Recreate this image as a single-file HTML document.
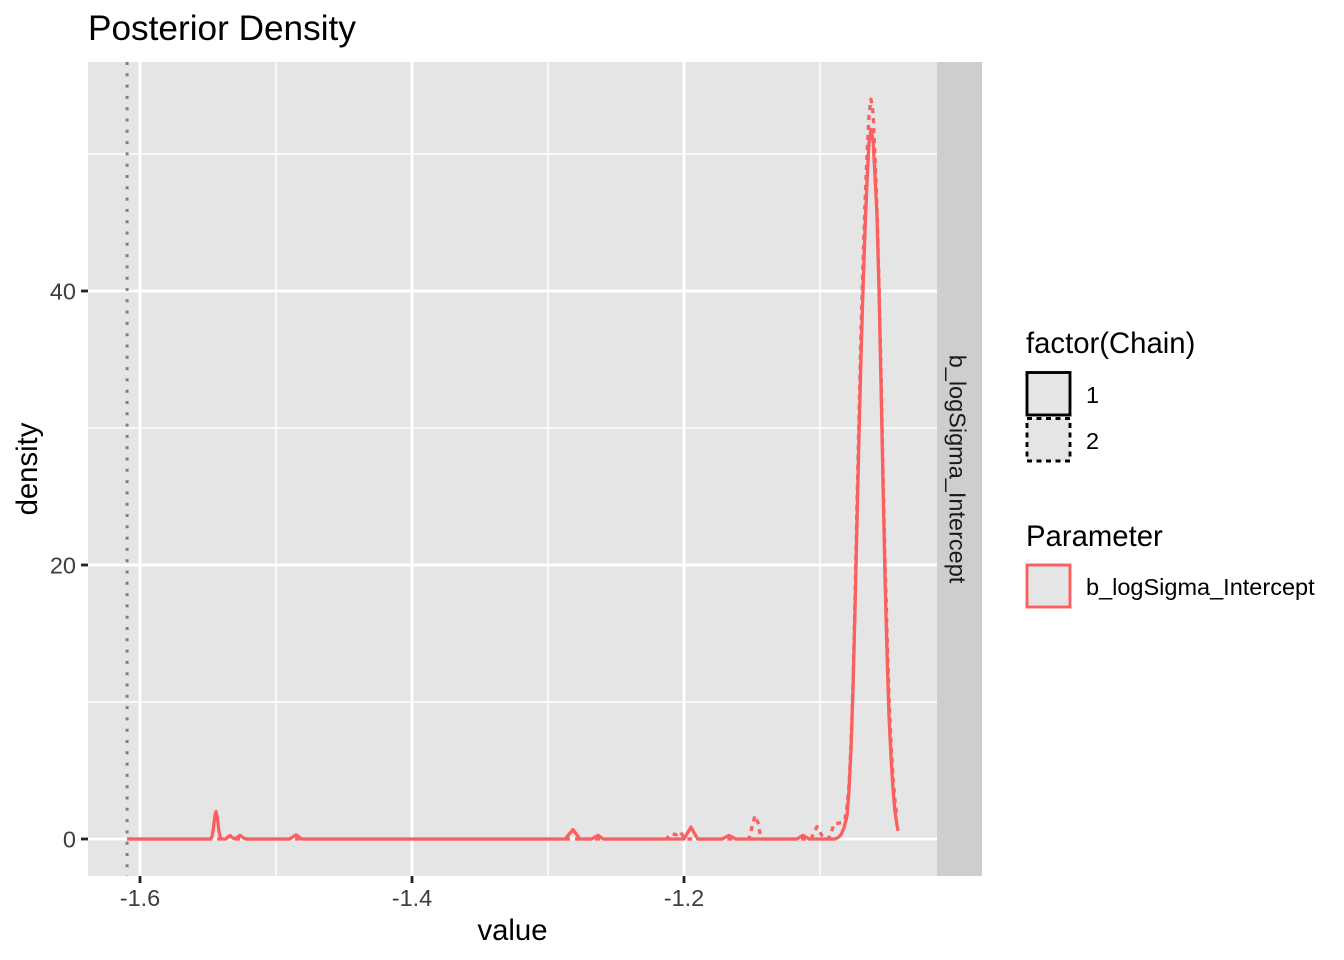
<!DOCTYPE html>
<html>
<head>
<meta charset="utf-8">
<style>
html,body{margin:0;padding:0;background:#fff;width:1344px;height:960px;overflow:hidden}
svg{display:block;font-family:"Liberation Sans",Arial,sans-serif}
</style>
</head>
<body>
<svg id="chart" width="1344" height="960" viewBox="0 0 1344 960" xmlns="http://www.w3.org/2000/svg">
  <rect x="0" y="0" width="1344" height="960" fill="#ffffff"/>
  <text x="88" y="40" font-size="35.2" fill="#000">Posterior Density</text>
  <rect x="88" y="62" width="849" height="814" fill="#e5e5e5"/>
  <rect x="937" y="62" width="45" height="814" fill="#cecece"/>
  <text transform="translate(949.5,469) rotate(90)" text-anchor="middle" font-size="23.5" fill="#1a1a1a">b_logSigma_Intercept</text>
  <g id="grid"></g>
  <g id="axes"></g>
  <g id="marks"></g>
  <text x="512.5" y="940" text-anchor="middle" font-size="29.3" fill="#000">value</text>
  <text transform="translate(37,469) rotate(-90)" text-anchor="middle" font-size="29.3" fill="#000">density</text>

  <g>
    <text x="1026" y="353" font-size="29.3" fill="#000">factor(Chain)</text>
    <rect x="1027" y="372.5" width="43" height="42.5" fill="#e5e5e5" stroke="#000" stroke-width="2.9"/>
    <text x="1086" y="403" font-size="23.5" fill="#000">1</text>
    <rect x="1027" y="418.5" width="43" height="42.5" fill="#e5e5e5" stroke="#000" stroke-width="2.9" stroke-dasharray="5 4.5"/>
    <text x="1086" y="449" font-size="23.5" fill="#000">2</text>
  </g>
  <g>
    <text x="1026" y="546" font-size="29.3" fill="#000">Parameter</text>
    <rect x="1027" y="565" width="43" height="42" fill="#e5e5e5" stroke="#f9605f" stroke-width="2.9"/>
    <text x="1086" y="595" font-size="23.5" fill="#000">b_logSigma_Intercept</text>
  </g>
</svg>
<script>
var xMajorTicks = [-1.6, -1.4, -1.2];
var xMajorLabels = ['-1.6', '-1.4', '-1.2'];
var xMinorTicks = [-1.5, -1.3, -1.1];
var yMajorTicks = [0, 20, 40];
var yMajorLabels = ['0', '20', '40'];
var yMinorTicks = [10, 30, 50];
var referenceValue = -1.6095;

var chain1Values = [-1.6095,-1.5485,-1.5472,-1.546,-1.5448,-1.5441,-1.5432,-1.542,-1.5408,-1.5395,-1.537,-1.5338,-1.5315,-1.5295,-1.5265,-1.5235,-1.521,-1.49,-1.4853,-1.481,-1.2875,-1.2816,-1.2765,-1.268,-1.2632,-1.2595,-1.2,-1.1949,-1.19,-1.172,-1.1669,-1.162,-1.117,-1.1125,-1.108,-1.089,-1.0868,-1.0846,-1.0824,-1.0801,-1.0787,-1.0772,-1.0757,-1.0743,-1.0728,-1.0713,-1.0699,-1.0684,-1.0669,-1.0654,-1.064,-1.0625,-1.061,-1.0596,-1.0581,-1.0566,-1.0551,-1.0537,-1.0522,-1.0507,-1.0493,-1.0478,-1.0463,-1.0449,-1.0434,-1.0426];
var chain1Density = [0,0,0.1,0.8,1.8,2.0,1.6,0.6,0.1,0,0,0.25,0.05,0.05,0.27,0.05,0,0,0.3,0,0,0.68,0,0,0.27,0,0,0.87,0,0,0.26,0,0,0.27,0,0,0.1,0.3,0.8,1.7,3.5,6.5,11,16.5,23,29.5,35,40,44.5,48,50.8,51.8,51,48.5,45.5,40,33,26,19,13.5,9,6,3.6,2,1,0.6];

var chain2Values = [-1.6095,-1.5426,-1.5375,-1.5338,-1.5301,-1.2132,-1.2088,-1.2059,-1.2029,-1.1993,-1.1522,-1.15,-1.1478,-1.1456,-1.1434,-1.1066,-1.1044,-1.1022,-1.1,-1.0978,-1.0941,-1.0919,-1.0897,-1.0868,-1.0838,-1.0816,-1.0801,-1.0787,-1.0772,-1.0757,-1.0743,-1.0728,-1.0713,-1.0699,-1.0684,-1.0669,-1.0654,-1.064,-1.0625,-1.061,-1.0596,-1.0581,-1.0566,-1.0551,-1.0537,-1.0522,-1.0507,-1.0493,-1.0478,-1.0463,-1.0449,-1.0434];
var chain2Density = [0,0,0,0.25,0,0,0.4,0.3,0.55,0,0,0.9,1.7,1.2,0,0,0.5,0.9,0.5,0.1,0,0.4,1.1,1.15,1.2,1.5,2.4,3.9,7,11.5,17.5,24.5,31,37,42,46.5,50,52.8,54,53,50,46,40.5,34,27,20.5,15,10.5,7,4.5,2.8,1.6];

var SVG_NS = 'http://www.w3.org/2000/svg';
function xScale(v) { return 140 + (v + 1.6) * 1360; }
function yScale(v) { return 839 - v * 13.7; }
function make(tag, attrs, parent) {
  var el = document.createElementNS(SVG_NS, tag);
  for (var k in attrs) { el.setAttribute(k, attrs[k]); }
  parent.appendChild(el);
  return el;
}
var grid = document.getElementById('grid');
var axes = document.getElementById('axes');
var marks = document.getElementById('marks');
var el;

yMinorTicks.forEach(function (t) {
  var el = make('line', {x1: 88, x2: 937, y1: yScale(t), y2: yScale(t), stroke: '#fff', 'stroke-width': 1.4}, grid);
  
  
});
xMinorTicks.forEach(function (t) {
  var el = make('line', {x1: xScale(t), x2: xScale(t), y1: 62, y2: 876, stroke: '#fff', 'stroke-width': 1.4}, grid);
  
  
});
yMajorTicks.forEach(function (t, i) {
  var y = yScale(t);
  var g = make('line', {x1: 88, x2: 937, y1: y, y2: y, stroke: '#fff', 'stroke-width': 2.8}, grid);
  
  
  var m = make('line', {x1: 81, x2: 88, y1: y, y2: y, stroke: '#222', 'stroke-width': 2.8}, axes);
  
  
  var l = make('text', {x: 76, y: y + 8.3, 'text-anchor': 'end', 'font-size': 23.5, fill: '#3d3d3d'}, axes);
  
  
  l.textContent = yMajorLabels[i];
});
xMajorTicks.forEach(function (t, i) {
  var x = xScale(t);
  var g = make('line', {x1: x, x2: x, y1: 62, y2: 876, stroke: '#fff', 'stroke-width': 2.8}, grid);
  
  
  var m = make('line', {x1: x, x2: x, y1: 876, y2: 883, stroke: '#222', 'stroke-width': 2.8}, axes);
  
  
  var l = make('text', {x: x, y: 906, 'text-anchor': 'middle', 'font-size': 23.5, fill: '#3d3d3d'}, axes);
  
  
  l.textContent = xMajorLabels[i];
});

function linePoints(xs, ys) {
  return xs.map(function (v, i) { return xScale(v).toFixed(2) + ',' + yScale(ys[i]).toFixed(2); }).join(' ');
}
el = make('polyline', {points: linePoints(chain2Values, chain2Density), fill: 'none', stroke: '#f9605f', 'stroke-width': 3.3, 'stroke-dasharray': '5 5', 'stroke-linejoin': 'round'}, marks);


el = make('polyline', {points: linePoints(chain1Values, chain1Density), fill: 'none', stroke: '#f9605f', 'stroke-width': 3.3, 'stroke-linejoin': 'round'}, marks);


el = make('line', {x1: xScale(referenceValue), x2: xScale(referenceValue), y1: 62, y2: 876, stroke: '#7f7f7f', 'stroke-width': 3, 'stroke-dasharray': '3 8.3'}, marks);


</script>
</body>
</html>
